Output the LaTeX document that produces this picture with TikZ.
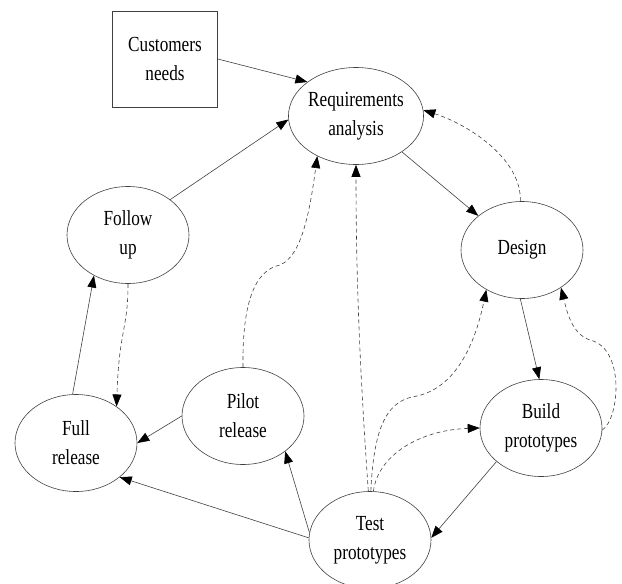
\documentclass[tikz,border=0pt]{standalone}
\usepackage{fontspec}
\setmainfont{Liberation Serif}[FakeStretch=0.8]
\usetikzlibrary{shapes.geometric,arrows.meta}

\tikzset{
  phase/.style={ellipse, draw=black!75, line width=0.6pt, minimum width=122, minimum height=97,
    inner sep=0pt, align=center, font=\fontsize{21.5}{29}\selectfont},
  inbox/.style={rectangle, draw=black!75, line width=0.6pt, minimum width=105, minimum height=96,
    inner sep=0pt, align=center, font=\fontsize{21.5}{29}\selectfont},
  flow/.style={->, draw=black!75, line width=0.6pt},
  back/.style={->, draw=black!75, line width=0.6pt, dash pattern=on 4pt off 3pt}
}

\begin{document}
\begin{tikzpicture}[x=1pt, y=-1pt, >={Triangle[length=12pt,width=9pt,color=black]}]
  \useasboundingbox (0,0) rectangle (622,584);

  \node[inbox] (cust) at (165,59) {Customers\\needs};
  \node[phase] (req) at (356,116) {Requirements\\analysis};
  \node[phase] (design) at (522,250) {Design};
  \node[phase] (build) at (541,428) {Build\\prototypes};
  \node[phase] (test) at (370,540) {Test\\prototypes};
  \node[phase] (pilot) at (243,416) {Pilot\\release};
  \node[phase] (full) at (76,443) {Full\\release};
  \node[phase] (follow) at (128,235) {Follow\\up};

  % forward steps
  \draw[flow] (cust.east) -- (req.145);
  \draw[flow] (follow.40) -- (req.183);
  \draw[flow] (req.-38) -- (design.142);
  \draw[flow] (design.-92) -- (build.92);
  \draw[flow] (build.217) -- (test.2);
  \draw[flow] (test.173) -- (pilot.-40);
  \draw[flow] (test.178) -- (full.-38);
  \draw[flow] (pilot.west) -- (full.east);
  \draw[flow] (full.94) -- (follow.230);

  % feedback loops
  \draw[back] (design.92) .. controls (522,160) and (470,125) .. (req.5);
  \draw[back] (build.-2) .. controls (620,418) and (625,348) .. (590,340)
    .. controls (572,334) and (567,312) .. (design.-44);
  \draw[back] (test.86) .. controls (378,455) and (420,430) .. (build.west);
  \draw[back] (test.89) .. controls (374,420) and (390,400) .. (417,396)
    .. controls (462,386) and (478,330) .. (design.228);
  \draw[back] (test.92) .. controls (362,400) and (356,300) .. (req.south);
  \draw[back] (pilot.north) .. controls (242,300) and (256,270) .. (280,265)
    .. controls (302,256) and (310,210) .. (req.226);
  \draw[back] (follow.south) .. controls (128,330) and (119,330) .. (full.42);
\end{tikzpicture}
\end{document}
